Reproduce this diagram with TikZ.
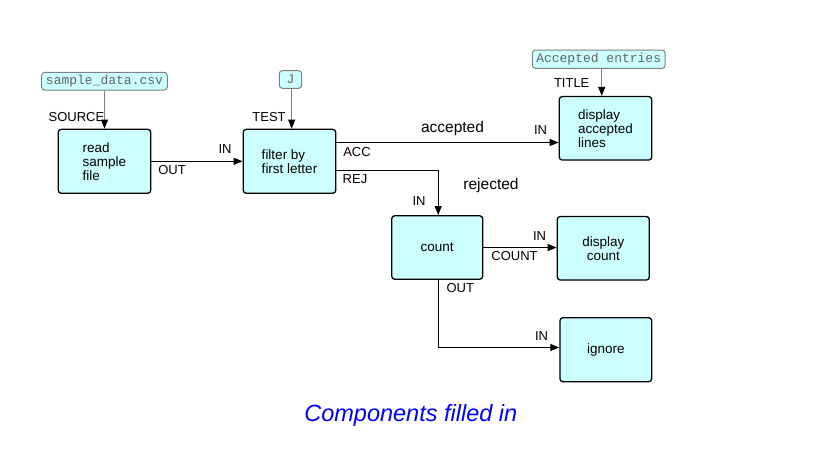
\documentclass[tikz,border=0pt]{standalone}
\usepackage{fontspec}
\setmainfont{Liberation Sans}
\setmonofont{Liberation Mono}
\usetikzlibrary{arrows.meta}
\definecolor{boxcyan}{RGB}{204,255,255}
\definecolor{ingray}{RGB}{128,128,128}
\definecolor{intext}{RGB}{100,100,100}
\tikzset{
  comp/.style={draw=black, line width=1.3pt, rounded corners=3pt, fill=boxcyan,
    inner sep=0pt, font=\fontsize{13.5}{14}\selectfont, align=left},
  inbox/.style={draw=ingray, line width=1pt, rounded corners=3pt, fill=boxcyan,
    inner sep=0pt, font=\fontsize{13}{14}\ttfamily\selectfont, text=intext},
  flow/.style={line width=1.2pt, -{Triangle[length=9pt,width=7pt]}},
  inflow/.style={draw=ingray, line width=1.2pt, -{Triangle[length=9pt,width=7pt,color=black]}},
  port/.style={font=\fontsize{13}{13}\selectfont, inner sep=0pt},
  lbl/.style={font=\fontsize{15.5}{16}\selectfont, inner sep=0pt},
}
\begin{document}
\begin{tikzpicture}[x=1pt,y=-1pt]
\useasboundingbox (0,0) rectangle (821,474);
% components
\node[comp, minimum width=92.5pt, minimum height=64pt] (read) at (104.5,161.3) {read\\sample\\file};
\node[comp, minimum width=92.5pt, minimum height=64pt] (filter) at (289.5,161.3) {filter by\\first letter};
\node[comp, minimum width=92.5pt, minimum height=63.5pt] (dacc) at (605.5,128.3) {display\\accepted\\lines};
\node[comp, minimum width=91pt, minimum height=63.5pt] (count) at (437.2,247.5) {count};
\node[comp, minimum width=92pt, minimum height=63.5pt, align=center] (dcount) at (603.3,248.3) {display\\count};
\node[comp, minimum width=91.7pt, minimum height=64pt] (ignore) at (605.8,349.7) {ignore};
% inputs
\node[inbox, minimum width=125.6pt, minimum height=17.7pt] (src) at (104.5,81.2) {sample\_data.csv};
\node[inbox, minimum width=22.4pt, minimum height=17.6pt] (jin) at (290.5,79.5) {J};
\node[inbox, minimum width=132.7pt, minimum height=18.3pt] (title) at (598.7,59.2) {Accepted entries};
% helper coordinates
\coordinate (accY) at (0,142.5);
\coordinate (rejY) at (0,170.5);
\coordinate (ignY) at (0,347.5);
% input arrows
\draw[inflow] (src.south) -- (src.south |- read.north);
\draw[inflow] ([xshift=1.2pt]jin.south) -- ([xshift=1.2pt]jin.south |- filter.north);
\draw[inflow] ([xshift=3pt]title.south) -- ([xshift=3pt]title.south |- dacc.north);
% flows
\draw[flow] (read.east) -- (read.east -| filter.west);
\draw[flow] (filter.east |- accY) -- (dacc.west |- accY);
\draw[flow] (filter.east |- rejY) -| ([xshift=1pt]count.north);
\draw[flow] (count.east) -- (count.east -| dcount.west);
\draw[flow] ([xshift=1pt]count.south) |- (ignore.west |- ignY);
% port labels
\node[port] (pSource) at (76.5,117) {SOURCE};
\node[port] (pTest) at (269,117) {TEST};
\node[port] (pIn1) at (225,149) {IN};
\node[port] (pOut1) at (172,170) {OUT};
\node[port] (pAcc) at (357,151.7) {ACC};
\node[port] (pRej) at (355,179.3) {REJ};
\node[port] (pIn2) at (540.5,130) {IN};
\node[port] (pTitle) at (571.7,83.3) {TITLE};
\node[port] (pIn3) at (419,200.7) {IN};
\node[port] (pIn4) at (539.5,236) {IN};
\node[port] (pCount) at (514.5,256) {COUNT};
\node[port] (pOut2) at (460.3,288.3) {OUT};
\node[port] (pIn5) at (541.5,336) {IN};
% flow labels
\node[lbl] (lAcc) at (452.5,128.3) {accepted};
\node[lbl] (lRej) at (491,185.5) {rejected};
% title
\node[inner sep=0pt, text=blue, font=\fontsize{23.5}{24}\itshape\selectfont] (caption) at (410.8,415.5) {Components filled in};
\end{tikzpicture}
\end{document}
